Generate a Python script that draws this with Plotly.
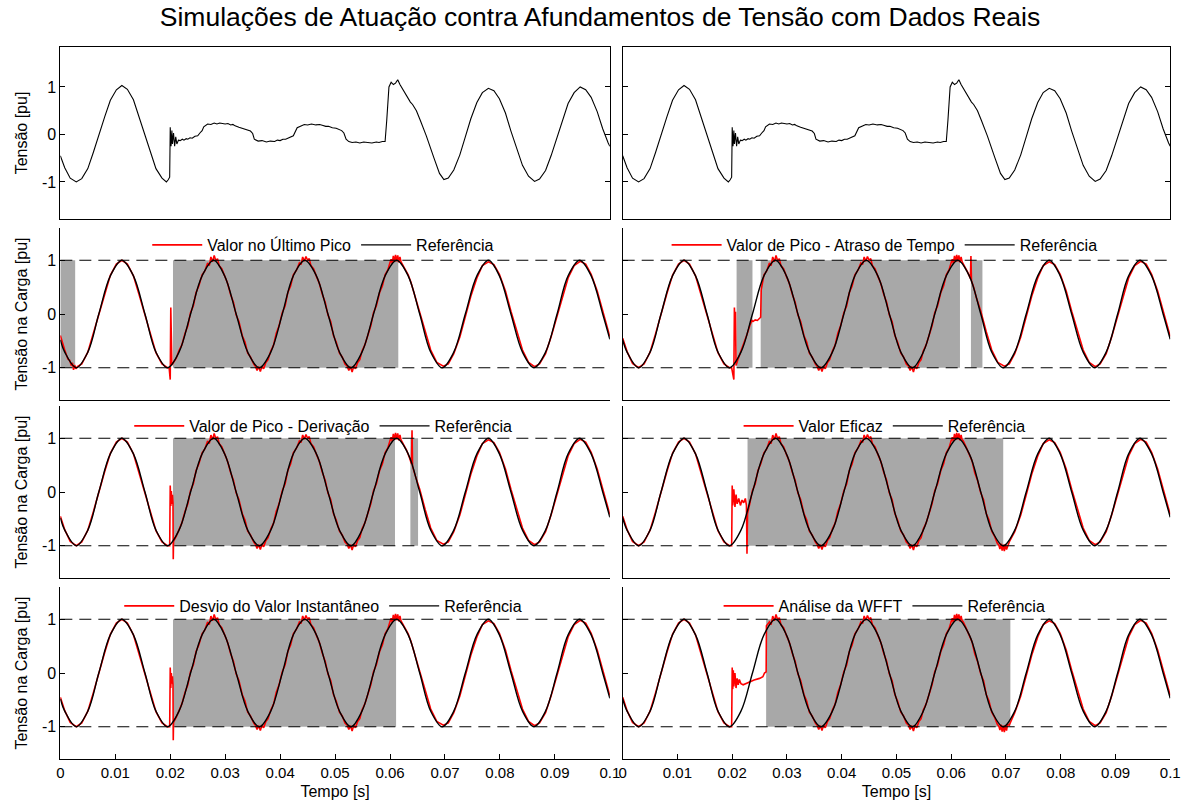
import plotly.graph_objects as go
from plotly.subplots import make_subplots

# ---------------------------------------------------------------- data
# Ideal reference voltage (pu), sampled every 1/8 cycle of 60 Hz
ref_t = [0.0000, 0.0008, 0.0029, 0.0050, 0.0070, 0.0091,
         0.0112, 0.0133, 0.0154, 0.0174, 0.0195, 0.0216, 0.0237, 0.0258,
         0.0279, 0.0299, 0.0320, 0.0341, 0.0362, 0.0383, 0.0404, 0.0424,
         0.0445, 0.0466, 0.0487, 0.0508, 0.0529, 0.0549, 0.0570, 0.0591,
         0.0612, 0.0633, 0.0654, 0.0674, 0.0695, 0.0716, 0.0737, 0.0758,
         0.0779, 0.0799, 0.0820, 0.0841, 0.0862, 0.0883, 0.0904, 0.0924,
         0.0945, 0.0966, 0.0987, 0.1000]
ref_v = [-0.48, -0.71, -1.00, -0.71, 0.00, 0.71,
         1.00, 0.71, 0.00, -0.71, -1.00, -0.71, 0.00, 0.71,
         1.00, 0.71, 0.00, -0.71, -1.00, -0.71, 0.00, 0.71,
         1.00, 0.71, 0.00, -0.71, -1.00, -0.71, 0.00, 0.71,
         1.00, 0.71, 0.00, -0.71, -1.00, -0.71, 0.00, 0.71,
         1.00, 0.71, 0.00, -0.71, -1.00, -0.71, 0.00, 0.71,
         1.00, 0.71, 0.00, -0.47]

# Measured supply voltage with the sag (pu)
grid_t = [0.0000, 0.0008, 0.0018, 0.0029, 0.0039, 0.0050, 0.0060, 0.0070,
          0.0081, 0.0091, 0.0102, 0.0112, 0.0122, 0.0133, 0.0143, 0.0154,
          0.0164, 0.0174, 0.0185, 0.0193, 0.0196, 0.0199,
          0.0200, 0.02015, 0.0203, 0.0204, 0.0206, 0.0208, 0.0210, 0.0212,
          0.0215, 0.0218, 0.0222, 0.0225, 0.0229, 0.0232, 0.0236, 0.0240,
          0.0245, 0.0250, 0.0254, 0.0258, 0.0261, 0.0265, 0.0268, 0.0274,
          0.0280, 0.0285, 0.0290, 0.0295, 0.0300, 0.0305, 0.0310, 0.0314,
          0.0318, 0.0325, 0.0332, 0.0336, 0.0340, 0.0346, 0.0350, 0.0353,
          0.0360, 0.0367, 0.0375, 0.0382, 0.0390, 0.0395, 0.0400, 0.0405,
          0.0410, 0.0418, 0.0424, 0.0431, 0.0438, 0.0444, 0.0450, 0.0457,
          0.0465, 0.0472, 0.0478, 0.0483, 0.0488, 0.0495, 0.0502, 0.0507,
          0.0512, 0.0516, 0.0520, 0.0525, 0.0531, 0.0538, 0.0545, 0.0552,
          0.0560, 0.0567, 0.0575, 0.0580, 0.0586, 0.0591,
          0.0594, 0.0598, 0.0602, 0.0606, 0.0610, 0.0614, 0.0618, 0.0623,
          0.0630, 0.0637, 0.0641, 0.0648, 0.0655, 0.0666, 0.0680, 0.0690,
          0.0698, 0.0706, 0.0716, 0.0727, 0.0737, 0.0747, 0.0758, 0.0768,
          0.0779, 0.0789, 0.0799, 0.0810, 0.0820, 0.0831, 0.0841, 0.0852,
          0.0863, 0.0872, 0.0883, 0.0893, 0.0904, 0.0914, 0.0924, 0.0935,
          0.0946, 0.0956, 0.0966, 0.0977, 0.0987, 0.0997, 0.1000]
grid_v = [-0.45, -0.70, -0.92, -1.00, -0.93, -0.72, -0.38, 0.00,
          0.38, 0.72, 0.94, 1.03, 0.95, 0.73, 0.38, 0.00,
          -0.38, -0.72, -0.92, -1.00, -0.96, -0.90,
          0.15, -0.25, 0.08, -0.20, 0.03, -0.25, -0.05, -0.20,
          -0.12, -0.13, -0.10, -0.12, -0.09, -0.10, -0.07, -0.08,
          -0.04, -0.03, 0.03, 0.08, 0.16, 0.19, 0.22, 0.21,
          0.24, 0.22, 0.24, 0.23, 0.22, 0.23, 0.20, 0.21,
          0.18, 0.15, 0.12, 0.11, 0.09, 0.07, 0.02, -0.10,
          -0.14, -0.13, -0.16, -0.14, -0.15, -0.12, -0.13, -0.10,
          -0.10, -0.06, -0.03, 0.14, 0.18, 0.21, 0.20, 0.22,
          0.20, 0.21, 0.19, 0.17, 0.17, 0.14, 0.13, 0.10,
          0.08, 0.03, -0.10, -0.15, -0.17, -0.16, -0.18, -0.16,
          -0.17, -0.18, -0.16, -0.17, -0.15, -0.15,
          0.30, 1.00, 1.10, 1.05, 1.08, 1.15, 1.05, 0.95,
          0.80, 0.68, 0.63, 0.50, 0.30, -0.03, -0.50, -0.82,
          -0.95, -0.92, -0.75, -0.43, -0.05, 0.33, 0.67, 0.88,
          0.97, 0.92, 0.75, 0.45, 0.07, -0.32, -0.65, -0.88,
          -0.99, -0.94, -0.76, -0.45, -0.07, 0.32, 0.65, 0.88,
          1.00, 0.94, 0.78, 0.48, 0.12, -0.18, -0.25]

# Load voltage before the sag (pu)
pre_t = [0.0000, 0.0008, 0.0018, 0.0029, 0.0039, 0.0050, 0.0060, 0.0070,
         0.0081, 0.0091, 0.0102, 0.0112, 0.0122, 0.0133, 0.0143, 0.0154,
         0.0164, 0.0174, 0.0185, 0.0195]
pre_v = [-0.45, -0.70, -0.92, -1.00, -0.93, -0.71, -0.37, 0.01,
         0.39, 0.72, 0.93, 1.00, 0.93, 0.71, 0.37, -0.01,
         -0.39, -0.72, -0.93, -1.00]

# Load voltage while the restorer is compensating (pu)
comp_t = [0.0206, 0.0211, 0.0216, 0.0221, 0.0227, 0.0232, 0.0237, 0.0242,
          0.0247, 0.0252, 0.0258, 0.0263, 0.0268, 0.0271, 0.0274, 0.0277,
          0.0280, 0.0283, 0.0286, 0.0289, 0.0294, 0.0299, 0.0304, 0.0310,
          0.0315, 0.0320, 0.0325, 0.0331, 0.0336, 0.0341, 0.0346, 0.0352,
          0.0355, 0.0358, 0.0361, 0.0364, 0.0367, 0.0370, 0.0374, 0.0378,
          0.0383, 0.0388, 0.0393, 0.0398, 0.0404, 0.0409, 0.0414, 0.0419,
          0.0424, 0.0430, 0.0435, 0.0438, 0.0441, 0.0444, 0.0447, 0.0450,
          0.0453, 0.0456, 0.0461, 0.0466, 0.0471, 0.0477, 0.0482, 0.0487,
          0.0492, 0.0497, 0.0502, 0.0508, 0.0513, 0.0518, 0.0522, 0.0525,
          0.0528, 0.0531, 0.0534, 0.0537, 0.0541, 0.0545, 0.0549, 0.0554,
          0.0560, 0.0565, 0.0570, 0.0575, 0.0581, 0.0586, 0.0591, 0.0596,
          0.0600, 0.0602, 0.0604, 0.0606, 0.0608, 0.0610, 0.0612, 0.0614,
          0.0616, 0.0618, 0.0620, 0.0622, 0.0627, 0.0633, 0.0638, 0.0643,
          0.0648, 0.0654, 0.0659, 0.0664, 0.0669, 0.0674, 0.0679, 0.0684,
          0.0687, 0.0689, 0.0691, 0.0693, 0.0695, 0.0697, 0.0699, 0.0701,
          0.0703, 0.0706, 0.0710, 0.0716]
comp_v = [-0.90, -0.82, -0.68, -0.58, -0.36, -0.22, 0.03, 0.15,
          0.40, 0.52, 0.73, 0.80, 0.95, 0.90, 1.06, 0.97,
          1.09, 0.99, 1.03, 0.90, 0.84, 0.70, 0.58, 0.36,
          0.22, -0.02, -0.14, -0.40, -0.52, -0.73, -0.80, -0.93,
          -0.97, -1.05, -0.98, -1.07, -0.97, -1.02, -0.90, -0.85,
          -0.69, -0.58, -0.36, -0.22, 0.03, 0.15, 0.40, 0.52,
          0.73, 0.82, 0.95, 0.92, 1.06, 0.98, 1.07, 1.00,
          1.03, 0.90, 0.84, 0.70, 0.58, 0.36, 0.22, -0.02,
          -0.14, -0.40, -0.52, -0.73, -0.80, -0.93, -0.97, -1.05,
          -0.98, -1.08, -0.97, -1.02, -0.90, -0.85, -0.69, -0.58,
          -0.36, -0.22, 0.03, 0.15, 0.40, 0.52, 0.73, 0.82,
          0.96, 1.02, 0.94, 1.08, 0.97, 1.10, 0.98, 1.09,
          0.96, 1.06, 0.97, 0.95, 0.84, 0.70, 0.58, 0.36,
          0.22, -0.02, -0.14, -0.40, -0.52, -0.73, -0.82, -0.95,
          -0.99, -1.06, -0.96, -1.09, -0.98, -1.10, -0.97, -1.07,
          -0.95, -0.97, -0.86, -0.72]

# Load voltage once the supply has recovered (pu)
post_t = [0.0627, 0.0633, 0.0638, 0.0643, 0.0648, 0.0654, 0.0664, 0.0674,
          0.0685, 0.0697, 0.0706, 0.0716, 0.0727, 0.0737, 0.0747, 0.0758,
          0.0768, 0.0779, 0.0789, 0.0799, 0.0810, 0.0820, 0.0831, 0.0841,
          0.0852, 0.0863, 0.0872, 0.0883, 0.0893, 0.0904, 0.0914, 0.0924,
          0.0935, 0.0946, 0.0956, 0.0966, 0.0977, 0.0987, 0.0997, 0.1000]
post_v = [0.85, 0.73, 0.59, 0.42, 0.25, 0.05, -0.33, -0.67,
          -0.90, -0.97, -0.93, -0.74, -0.43, -0.05, 0.33, 0.67,
          0.90, 0.97, 0.92, 0.74, 0.43, 0.05, -0.33, -0.67,
          -0.90, -0.98, -0.93, -0.74, -0.43, -0.05, 0.33, 0.67,
          0.90, 0.98, 0.93, 0.74, 0.43, 0.05, -0.33, -0.42]

# Detection methods, panel order: left/right, top to bottom
method_names = ["Valor no Último Pico", "Valor de Pico - Atraso de Tempo",
                "Valor de Pico - Derivação", "Valor Eficaz",
                "Desvio do Valor Instantâneo", "Análise da WFFT"]

# Intervals in which the restorer is active (s)
gray_on = [[0.0000, 0.0205], [0.0208, 0.0252, 0.0636], [0.0205, 0.0637],
           [0.0228], [0.0205], [0.0262]]
gray_off = [[0.0027, 0.0615], [0.0237, 0.0616, 0.0657], [0.0609, 0.0651],
            [0.0695], [0.0611], [0.0708]]

# Noisy start of the first method's output (s, pu)
lead_t = [[0.0000, 0.0004, 0.0008, 0.0011, 0.0014, 0.0017, 0.0020, 0.0022,
           0.0024, 0.0026, 0.0028, 0.0031], [], [], [], [], []]
lead_v = [[-0.40, -0.56, -0.67, -0.76, -0.84, -0.86, -0.96, -0.91,
           -1.04, -0.95, -1.02, -0.98], [], [], [], [], []]
pre_from = [0.0035, 0.0, 0.0, 0.0, 0.0, 0.0]

# Transients at the sag onset, per method (s, pu)
in_t = [
    [0.0198, 0.0200, 0.0201, 0.0202, 0.0203],
    [0.0199, 0.0203, 0.0204, 0.0205, 0.0206, 0.0207, 0.0211, 0.0216,
     0.0221, 0.0227, 0.0232, 0.0236, 0.0238, 0.0242, 0.0246, 0.0249,
     0.0252, 0.0253],
    [0.0199, 0.0200, 0.0201, 0.0202, 0.0203, 0.0204, 0.0205, 0.02055,
     0.0206],
    [0.0199, 0.0200, 0.0201, 0.0203, 0.0205, 0.0207, 0.0209, 0.0212,
     0.0215, 0.0218, 0.0221, 0.0224, 0.0226, 0.0227, 0.0228],
    [0.0199, 0.0200, 0.0201, 0.0202, 0.0203, 0.0204, 0.0205, 0.02055,
     0.0206],
    [0.0199, 0.0200, 0.0201, 0.0202, 0.0203, 0.0205, 0.0207, 0.0209,
     0.0211, 0.0213, 0.0216, 0.0220, 0.0230, 0.0240, 0.0250, 0.0256,
     0.0259, 0.0262, 0.02625],
]
in_v = [
    [-1.00, -1.22, 0.12, -0.35, -0.95],
    [-1.00, -1.22, 0.12, -0.20, 0.04, -0.96, -0.83, -0.70,
     -0.57, -0.38, -0.22, -0.12, -0.14, -0.11, -0.12, -0.08,
     -0.06, 0.45],
    [-1.00, 0.12, -0.26, 0.02, -0.22, -0.05, -0.20, -1.25,
     -0.92],
    [-1.00, 0.12, -0.25, 0.05, -0.28, -0.05, -0.22, -0.12,
     -0.25, -0.15, -0.20, -0.12, -0.25, -1.15, -0.40],
    [-1.00, 0.10, -0.28, 0.00, -0.20, -0.06, -0.22, -1.25,
     -0.92],
    [-1.00, 0.10, -0.30, 0.05, -0.25, 0.00, -0.28, -0.10,
     -0.22, -0.12, -0.20, -0.22, -0.17, -0.13, -0.10, -0.07,
     0.00, 0.02, 0.88],
]
comp_win = [[0.0205, 0.0620], [0.0258, 0.0620], [0.0211, 0.0620],
            [0.0232, 0.0701], [0.0211, 0.0620], [0.0268, 0.0706]]

# Transients when the restorer switches off, per method (s, pu)
out_t = [[], [0.0625, 0.0630, 0.0635, 0.0636, 0.0637, 0.0641, 0.0646],
         [0.0625, 0.0630, 0.0636, 0.0639, 0.0640, 0.0641, 0.0646],
         [], [], []]
out_v = [[], [0.88, 0.78, 0.66, 1.08, 0.62, 0.50, 0.30],
         [0.88, 0.78, 0.62, 0.52, 1.15, 0.47, 0.30],
         [], [], []]
post_from = [0.0627, 0.0654, 0.0654, 0.0706, 0.0627, 0.0716]

limit_levels = [1, -1]
x_ticks = [0, 0.01, 0.02, 0.03, 0.04, 0.05, 0.06, 0.07, 0.08, 0.09, 0.1]
x_tick_text = ["0", "0.01", "0.02", "0.03", "0.04", "0.05", "0.06", "0.07",
               "0.08", "0.09", "0.1"]
y_ticks = [-1, 0, 1]
y_tick_text = ["-1", "0", "1"]

# ---------------------------------------------------------------- style
FONT = "Liberation Sans, Arial, sans-serif"
RED = "#ff0000"
GRAY = "#a8a8a8"
W, H = 1200, 807
col_px = [(57, 613), (626, 1180)]
row_px = [(47, 219), (228, 400), (406, 578), (587, 759)]
legend_y_px = [245, 426, 606]


def window(ts, vs, lo, hi):
    keep = [(t, v) for t, v in zip(ts, vs) if lo <= t <= hi]
    return [k[0] for k in keep], [k[1] for k in keep]


def load_curve(p):
    t, v = list(lead_t[p]), list(lead_v[p])
    a, b = window(pre_t, pre_v, pre_from[p], 0.0196)
    t += a; v += b
    t += in_t[p]; v += in_v[p]
    a, b = window(comp_t, comp_v, comp_win[p][0], comp_win[p][1])
    t += a; v += b
    t += out_t[p]; v += out_v[p]
    a, b = window(post_t, post_v, post_from[p], 0.1)
    t += a; v += b
    return t, v


fig = make_subplots(rows=4, cols=2)

# top row: supply voltage
for c in (1, 2):
    fig.add_trace(go.Scatter(x=grid_t, y=grid_v, mode="lines",
                             line=dict(color="black", width=1.1),
                             showlegend=False, hoverinfo="skip"),
                  row=1, col=c)

# rows 2-4: load voltage for each detection method
for p, name in enumerate(method_names):
    r, c = p // 2 + 2, p % 2 + 1
    leg = "legend" if p == 0 else f"legend{p + 1}"
    on, off = gray_on[p], gray_off[p]
    fig.add_trace(go.Bar(x=[(a + b) / 2 for a, b in zip(on, off)],
                         y=[2] * len(on), base=[-1] * len(on),
                         width=[b - a for a, b in zip(on, off)],
                         marker=dict(color=GRAY, line=dict(width=0)),
                         showlegend=False, hoverinfo="skip"),
                  row=r, col=c)
    lt, lv = load_curve(p)
    fig.add_trace(go.Scatter(x=lt, y=lv, mode="lines", name=name,
                             line=dict(color=RED, width=1.6),
                             legend=leg, hoverinfo="skip"),
                  row=r, col=c)
    fig.add_trace(go.Scatter(x=ref_t, y=ref_v, mode="lines", name="Referência",
                             line=dict(color="black", width=1.4,
                                       shape="spline", smoothing=1),
                             legend=leg, hoverinfo="skip"),
                  row=r, col=c)
    for lvl in limit_levels:
        fig.add_hline(y=lvl, row=r, col=c,
                      line=dict(color="black", width=1, dash="12px,7px"))
    cx = (col_px[c - 1][0] + col_px[c - 1][1]) / 2 / W
    fig.layout[leg] = dict(orientation="h", x=cx - 0.01, xanchor="center",
                           y=1 - legend_y_px[r - 2] / H, yanchor="middle",
                           bgcolor="rgba(0,0,0,0)", borderwidth=0,
                           itemwidth=50, font=dict(family=FONT, size=16,
                                                   color="black"))

# axes
for r in range(1, 5):
    for c in (1, 2):
        n = (r - 1) * 2 + c
        xa = "xaxis" if n == 1 else f"xaxis{n}"
        ya = "yaxis" if n == 1 else f"yaxis{n}"
        x0, x1 = col_px[c - 1]
        y0, y1 = row_px[r - 1]
        fig.layout[xa].update(
            domain=[x0 / W, x1 / W], range=[0, 0.1], showgrid=False,
            zeroline=False, showline=True, linecolor="black", linewidth=1,
            mirror=(r == 1), tickvals=x_ticks, ticktext=x_tick_text,
            ticks="inside" if r == 4 else "", ticklen=5, tickcolor="black",
            showticklabels=(r == 4),
            tickfont=dict(family=FONT, size=15, color="black"))
        if r == 4:
            fig.layout[xa].title = dict(text="Tempo [s]", standoff=5,
                                        font=dict(family=FONT, size=16,
                                                  color="black"))
        fig.layout[ya].update(
            domain=[1 - y1 / H, 1 - y0 / H],
            range=[-1.78, 1.84] if r == 1 else [-1.6, 1.6],
            showgrid=False, zeroline=False, showline=True, linecolor="black",
            linewidth=1, mirror="ticks" if r == 1 else False,
            tickvals=y_ticks, ticktext=y_tick_text, ticks="inside", ticklen=5,
            tickcolor="black", showticklabels=(c == 1),
            tickfont=dict(family=FONT, size=16, color="black"))
        if c == 1:
            fig.layout[ya].title = dict(
                text="Tensão [pu]" if r == 1 else "Tensão na Carga [pu]",
                standoff=10, font=dict(family=FONT, size=16, color="black"))

fig.update_layout(
    width=W, height=H, margin=dict(l=0, r=0, t=0, b=0),
    paper_bgcolor="white", plot_bgcolor="white", barmode="overlay",
    font=dict(family=FONT, color="black"),
    title=dict(text="Simulações de Atuação contra Afundamentos de Tensão com Dados Reais",
               x=0.5, xanchor="center", y=1 - 17 / H, yanchor="middle",
               font=dict(family=FONT, size=26.5, color="black")),
)

fig.write_html("out.html")
